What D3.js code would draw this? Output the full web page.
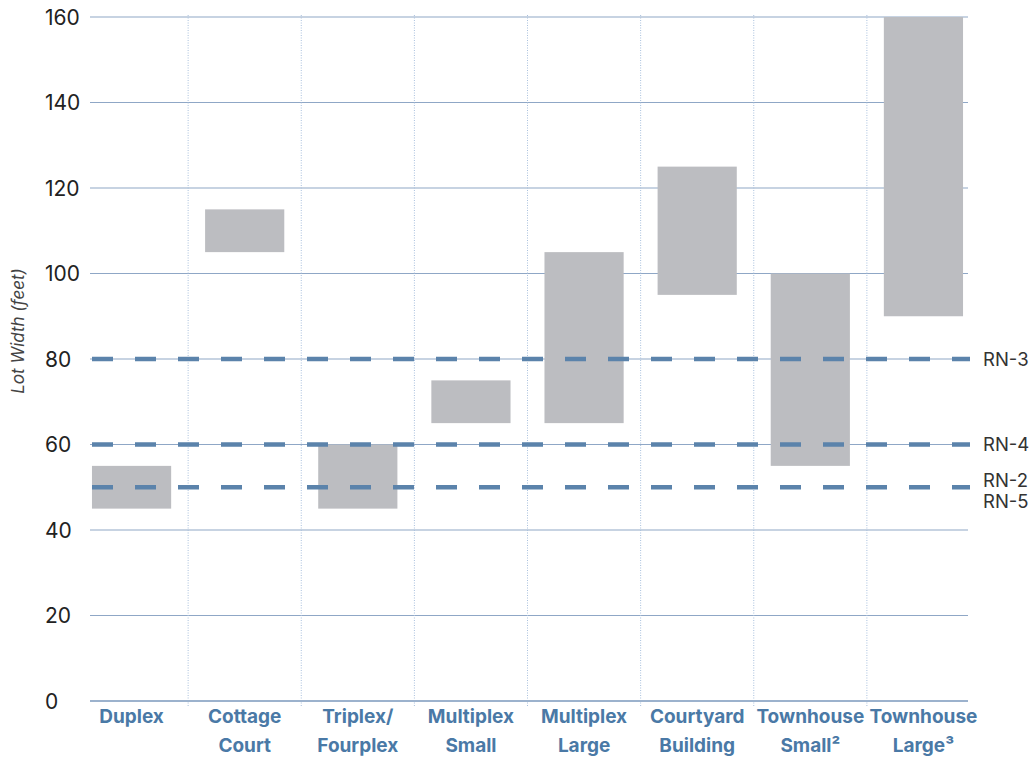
<!DOCTYPE html>
<html>
<head>
<meta charset="utf-8">
<script src="https://cdn.jsdelivr.net/npm/d3@7"></script>
<style>
  body { margin: 0; background: #ffffff; }
  svg { display: block; font-family: "Inter", "Lato", sans-serif; }
</style>
</head>
<body>
<svg id="chart" width="1034" height="757"></svg>
<script>

// ---- data ----
var vsCategories = ["Duplex", "Cottage Court", "Triplex/ Fourplex", "Multiplex Small",
                    "Multiplex Large", "Courtyard Building", "Townhouse Small²", "Townhouse Large³"];
var vvLabelLines = [["Duplex"], ["Cottage", "Court"], ["Triplex/", "Fourplex"], ["Multiplex", "Small"],
                    ["Multiplex", "Large"], ["Courtyard", "Building"], ["Townhouse", "Small²"], ["Townhouse", "Large³"]];
var vfLow  = [45, 105, 45, 65, 65, 95, 55, 90];
var vfHigh = [55, 115, 60, 75, 105, 125, 100, 160];

var vsZones = ["RN-3", "RN-4", "RN-2", "RN-5"];
var vfZoneWidth = [80, 60, 50, 50];

var vnYTicks = [0, 20, 40, 60, 80, 100, 120, 140, 160];

// ---- style ----
var g_colorGrid = "#8fa7c6";
var g_colorBar = "#bcbdc1";
var g_colorDash = "#5b83ab";
var g_colorLabel = "#4a79a6";
var g_colorSep = "#a9c0dd";

var nPlotL = 90, nPlotR = 968;

var svg = d3.select("#chart");

var y = d3.scaleLinear().domain([0, 160]).range([701, 17]);

var x = d3.scaleBand()
            .domain(vsCategories)
            .range([75, 980])
            .paddingInner(0.30)
            .paddingOuter(0.15);

// horizontal grid
svg.append("g")
    .selectAll("line.grid")
    .data(vnYTicks.filter(function(d) { return d > 0; }))
    .enter()
    .append("line")
        .attr("class", "grid")
        .attr("x1", nPlotL)
        .attr("x2", nPlotR)
        .attr("y1", function(d) { return y(d); })
        .attr("y2", function(d) { return y(d); })
        .attr("stroke", g_colorGrid)
        .attr("stroke-width", 1.2);

// dotted separators between categories
var step = x.step();
svg.append("g")
    .selectAll("line.sep")
    .data(vsCategories.slice(1))
    .enter()
    .append("line")
        .attr("class", "sep")
        .attr("x1", function(d) { return x(d) - step * x.paddingInner() / 2; })
        .attr("x2", function(d) { return x(d) - step * x.paddingInner() / 2; })
        .attr("y1", 15)
        .attr("y2", 707)
        .attr("stroke", g_colorSep)
        .attr("stroke-width", 1)
        .attr("stroke-dasharray", "1,1.5");

// baseline
svg.append("line")
    .attr("x1", nPlotL).attr("x2", nPlotR)
    .attr("y1", y(0)).attr("y2", y(0))
    .attr("stroke", "#9cb2cd")
    .attr("stroke-width", 2);

// y tick labels
svg.append("g")
    .selectAll("text.ytick")
    .data(vnYTicks)
    .enter()
    .append("text")
        .attr("class", "ytick")
        .attr("x", 45)
        .attr("y", function(d) { return y(d); })
        .attr("dy", "0.36em")
        .attr("font-size", "21px")
        .attr("fill", "#222222")
        .text(function(d) { return d; });

// y axis title
svg.append("text")
    .attr("transform", "translate(24, 331) rotate(-90)")
    .attr("text-anchor", "middle")
    .attr("font-size", "17px")
    .attr("font-style", "italic")
    .attr("fill", "#444444")
    .text("Lot Width (feet)");

// range bars
svg.append("g")
    .selectAll("rect.bar")
    .data(vsCategories)
    .enter()
    .append("rect")
        .attr("class", "bar")
        .attr("x", function(d) { return x(d); })
        .attr("width", x.bandwidth())
        .attr("y", function(d, i) { return y(vfHigh[i]); })
        .attr("height", function(d, i) { return y(vfLow[i]) - y(vfHigh[i]); })
        .attr("fill", g_colorBar);

// zone dashed lines (one line per distinct width)
var vfDistinct = Array.from(new Set(vfZoneWidth));
svg.append("g")
    .selectAll("line.zone")
    .data(vfDistinct)
    .enter()
    .append("line")
        .attr("class", "zone")
        .attr("x1", 92)
        .attr("x2", 970)
        .attr("y1", function(d) { return y(d); })
        .attr("y2", function(d) { return y(d); })
        .attr("stroke", g_colorDash)
        .attr("stroke-width", 4.5)
        .attr("stroke-dasharray", "21,22");

// zone labels (RN-2 / RN-5 share a line, so split them)
var vnZoneOffset = [0, 0, -7, 14];
svg.append("g")
    .selectAll("text.zone")
    .data(vsZones)
    .enter()
    .append("text")
        .attr("class", "zone")
        .attr("x", 983)
        .attr("y", function(d, i) { return y(vfZoneWidth[i]) + vnZoneOffset[i]; })
        .attr("dy", "0.36em")
        .attr("font-size", "18.5px")
        .attr("fill", "#333333")
        .text(function(d) { return d; });

// category labels
var gCat = svg.append("g")
    .selectAll("text.cat")
    .data(vsCategories)
    .enter()
    .append("text")
        .attr("class", "cat")
        .attr("text-anchor", "middle")
        .attr("font-size", "19px")
        .attr("font-weight", "bold")
        .attr("fill", g_colorLabel);

gCat.selectAll("tspan")
    .data(function(d, i) { return vvLabelLines[i].map(function(s) { return { s: s, c: d }; }); })
    .enter()
    .append("tspan")
        .attr("x", function(d) { return x(d.c) + x.bandwidth() / 2; })
        .attr("y", function(d, j) { return 723 + j * 29; })
        .text(function(d) { return d.s; });

</script>
</body>
</html>
